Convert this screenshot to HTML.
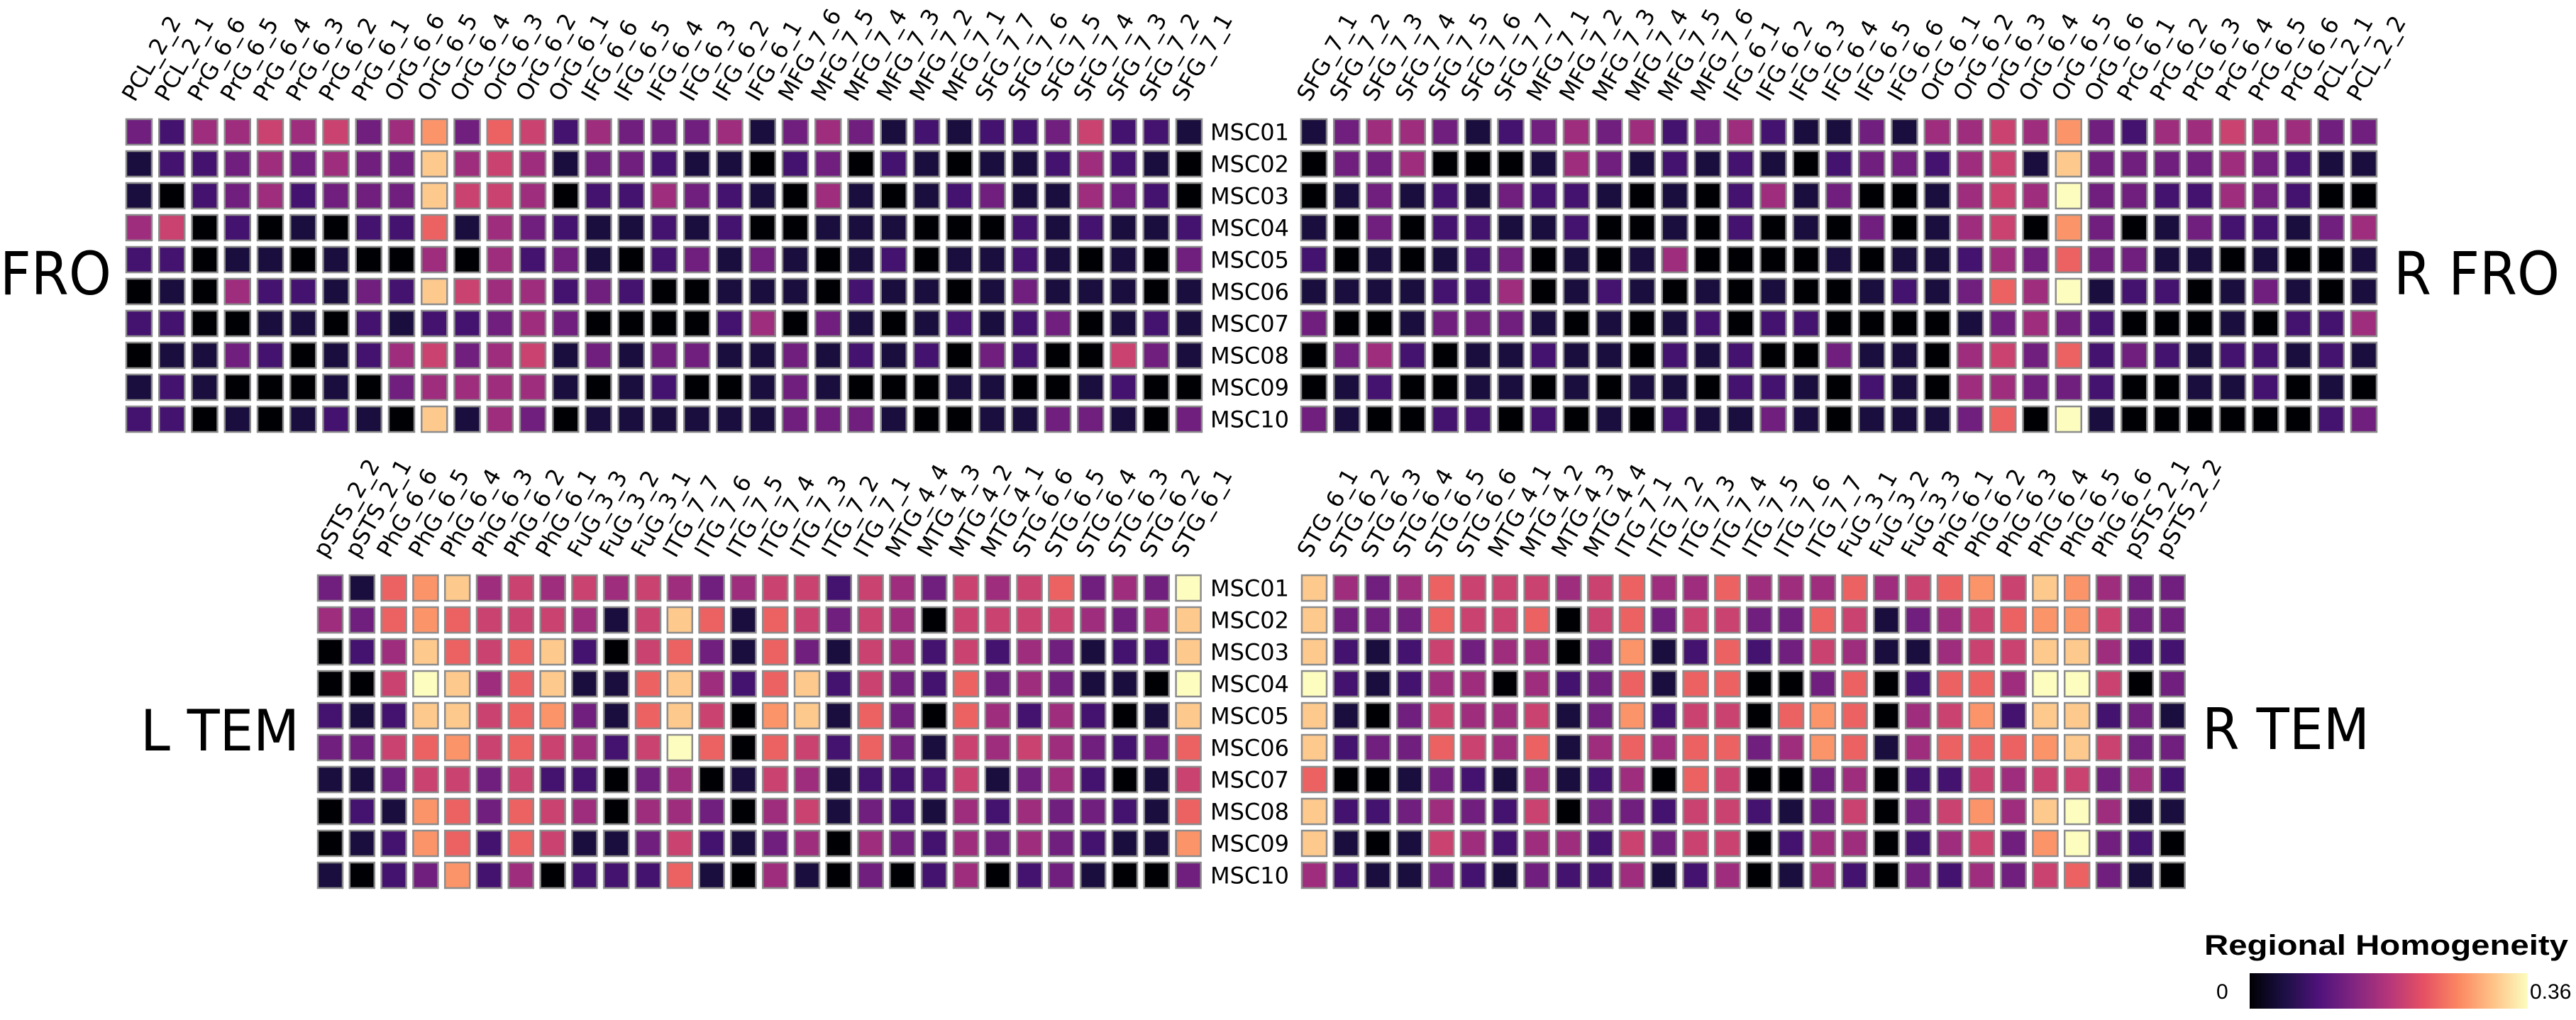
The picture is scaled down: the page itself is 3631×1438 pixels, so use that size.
<!DOCTYPE html>
<html>
<head>
<meta charset="utf-8">
<style>
html,body{margin:0;padding:0;background:#fff;}
svg{display:block;}
text{font-family:"DejaVu Sans","Liberation Sans",sans-serif;fill:#000;}
</style>
</head>
<body>
<svg id="chart" width="3631" height="1438" viewBox="0 0 3631 1438" xmlns="http://www.w3.org/2000/svg">
<defs>
<linearGradient id="magma" x1="0" x2="1" y1="0" y2="0">
<stop offset="0" stop-color="#000004"/>
<stop offset="0.125" stop-color="#1c1044"/>
<stop offset="0.25" stop-color="#4f127b"/>
<stop offset="0.375" stop-color="#812581"/>
<stop offset="0.5" stop-color="#b5367a"/>
<stop offset="0.625" stop-color="#e55064"/>
<stop offset="0.75" stop-color="#fb8761"/>
<stop offset="0.875" stop-color="#fec287"/>
<stop offset="1" stop-color="#fcfdbf"/>
</linearGradient>
</defs>
<g id="panels"></g>
<text x="-67" y="415" font-size="84" textLength="224" lengthAdjust="spacingAndGlyphs">L FRO</text>
<text x="3374" y="415" font-size="84" textLength="234" lengthAdjust="spacingAndGlyphs">R FRO</text>
<text x="198" y="1058" font-size="80" textLength="224" lengthAdjust="spacingAndGlyphs">L TEM</text>
<text x="3104" y="1056" font-size="80" textLength="236" lengthAdjust="spacingAndGlyphs">R TEM</text>
<g>
<text x="3107" y="1346" font-size="40" font-weight="bold" style="font-family:'Liberation Sans',sans-serif" textLength="513" lengthAdjust="spacingAndGlyphs">Regional Homogeneity</text>
<rect x="3171" y="1372" width="392" height="50" fill="url(#magma)"/>
<text x="3124" y="1408" font-size="30" style="font-family:'Liberation Sans',sans-serif">0</text>
<text x="3566" y="1408" font-size="30" style="font-family:'Liberation Sans',sans-serif">0.36</text>
</g>
</svg>
<script>
// values in units of 0.04 (0 .. 9 => 0 .. 0.36 ReHo)
const valueUnit = 0.04;
const valueMax = 0.36;
const rowLabels = ["MSC01","MSC02","MSC03","MSC04","MSC05","MSC06","MSC07","MSC08","MSC09","MSC10"];
const tlCols = ["PCL_2_2","PCL_2_1","PrG_6_6","PrG_6_5","PrG_6_4","PrG_6_3","PrG_6_2","PrG_6_1","OrG_6_6","OrG_6_5","OrG_6_4","OrG_6_3","OrG_6_2","OrG_6_1","IFG_6_6","IFG_6_5","IFG_6_4","IFG_6_3","IFG_6_2","IFG_6_1","MFG_7_6","MFG_7_5","MFG_7_4","MFG_7_3","MFG_7_2","MFG_7_1","SFG_7_7","SFG_7_6","SFG_7_5","SFG_7_4","SFG_7_3","SFG_7_2","SFG_7_1"];
const trCols = tlCols.slice().reverse();
const blCols = ["pSTS_2_2","pSTS_2_1","PhG_6_6","PhG_6_5","PhG_6_4","PhG_6_3","PhG_6_2","PhG_6_1","FuG_3_3","FuG_3_2","FuG_3_1","ITG_7_7","ITG_7_6","ITG_7_5","ITG_7_4","ITG_7_3","ITG_7_2","ITG_7_1","MTG_4_4","MTG_4_3","MTG_4_2","MTG_4_1","STG_6_6","STG_6_5","STG_6_4","STG_6_3","STG_6_2","STG_6_1"];
const brCols = blCols.slice().reverse();
const tlVals = [
[3,2,4,4,5,4,5,3,4,7,3,6,5,2,4,3,3,3,4,1,3,4,3,1,2,1,2,2,3,5,2,2,1],
[1,2,2,3,4,3,4,3,3,8,4,5,4,1,3,3,2,1,1,0,2,3,0,2,1,0,1,1,2,4,2,1,0],
[1,0,2,3,4,2,3,3,3,8,5,5,4,0,2,2,4,3,2,1,0,4,1,0,1,2,3,1,1,4,3,2,0],
[4,5,0,2,0,1,0,2,2,6,1,4,3,2,1,1,2,1,2,0,0,1,1,1,0,0,0,2,1,2,1,1,2],
[2,2,0,1,1,0,1,0,0,4,0,4,2,3,1,0,2,3,1,3,1,0,1,2,0,1,1,2,1,0,1,0,3],
[0,1,0,4,2,2,1,3,2,8,5,4,4,2,3,2,0,0,1,1,1,0,2,1,1,0,1,3,1,1,1,0,1],
[2,2,0,0,1,1,0,2,1,2,2,3,4,3,0,0,0,0,2,4,0,3,1,0,1,2,1,2,3,0,1,2,1],
[0,1,1,3,2,0,1,2,4,5,3,4,5,1,3,1,3,3,1,1,3,1,2,1,2,0,3,2,0,0,5,3,1],
[1,2,1,0,0,0,1,0,3,4,4,4,4,1,0,1,2,0,0,1,3,1,0,0,0,1,1,0,0,1,2,0,0],
[2,2,0,1,0,1,2,1,0,8,1,4,3,0,1,1,1,1,1,1,3,3,3,1,0,0,1,1,3,3,1,0,3]
];
const trVals = [
[1,3,4,4,3,1,2,3,4,3,4,2,3,4,2,1,1,3,1,4,4,5,4,7,3,2,4,4,5,4,4,3,3],
[0,3,3,4,0,0,0,1,4,3,1,2,1,2,1,0,2,3,3,2,4,5,1,8,3,3,3,3,4,3,2,1,1],
[0,1,3,1,2,1,3,2,2,1,0,1,0,2,4,1,3,0,0,1,4,5,4,9,3,3,2,2,4,3,2,0,0],
[1,0,3,0,2,2,1,1,2,0,0,1,0,2,0,1,0,3,0,1,4,5,0,7,3,0,1,3,2,2,1,3,4],
[2,0,1,0,1,2,3,0,1,0,1,4,0,0,0,0,1,0,1,1,2,4,3,6,3,3,1,1,0,1,0,0,1],
[1,1,1,1,2,2,4,0,1,2,1,0,1,0,1,0,0,1,2,1,3,6,4,9,1,2,2,0,1,3,1,0,1],
[3,0,0,1,3,3,3,1,0,1,0,1,2,0,2,2,0,0,0,0,1,3,4,3,2,0,0,0,1,0,2,2,4],
[0,3,4,2,0,1,1,2,1,1,0,2,1,2,0,0,3,1,1,0,4,5,3,6,2,3,2,1,2,2,1,2,1],
[0,1,2,0,0,1,1,0,1,0,1,1,0,2,2,1,0,2,1,0,4,4,3,3,2,0,0,1,1,2,0,1,0],
[3,1,0,0,2,2,0,2,0,1,0,2,1,1,3,1,0,1,1,1,3,6,0,9,1,0,0,0,0,0,0,2,3]
];
const blVals = [
[3,1,6,7,8,4,5,4,5,4,5,4,3,4,5,5,2,5,4,3,5,4,5,6,3,4,3,9],
[4,3,6,7,6,5,5,5,4,1,5,8,6,1,6,5,3,5,4,0,5,5,5,5,4,3,4,8],
[0,2,4,8,6,5,6,8,2,0,5,6,3,1,6,3,1,5,4,2,5,2,4,3,1,2,2,8],
[0,0,5,9,8,4,6,8,1,1,6,8,4,2,6,8,2,5,3,2,6,3,4,3,1,1,0,9],
[2,1,2,8,8,5,6,7,3,1,6,8,5,0,7,8,1,6,3,0,6,4,2,4,2,0,1,8],
[3,3,5,6,7,5,6,5,4,2,5,9,6,0,6,5,2,6,3,1,5,4,5,4,3,2,3,6],
[1,1,3,5,5,3,5,2,2,0,3,4,0,1,5,4,1,2,2,2,5,1,3,4,2,0,1,5],
[0,2,1,7,6,3,6,5,4,0,4,4,3,0,4,5,1,3,2,1,4,2,4,3,3,2,1,6],
[0,1,2,7,6,2,6,5,1,1,3,5,2,1,3,4,0,4,3,2,4,3,4,3,2,1,1,7],
[1,0,2,3,7,2,4,0,2,2,2,6,1,0,4,1,0,3,0,2,4,0,2,3,1,0,0,3]
];
const brVals = [
[8,4,3,4,6,5,5,5,4,5,6,4,4,6,4,4,4,6,4,5,6,7,5,8,7,4,3,3],
[8,3,3,3,6,5,5,6,0,5,6,3,5,5,3,3,6,5,1,3,4,5,6,7,7,5,3,3],
[8,2,1,2,5,3,4,4,0,3,7,1,2,6,2,3,5,4,1,1,4,5,5,8,8,4,2,2],
[9,2,1,2,4,4,0,4,2,3,6,1,6,6,0,0,3,6,0,2,6,6,4,9,9,5,0,3],
[8,1,0,3,5,4,4,5,1,3,7,2,5,5,0,6,7,6,0,4,5,7,2,8,8,2,3,1],
[8,2,3,3,6,5,4,6,1,4,6,4,6,6,3,4,7,6,1,4,6,6,6,7,8,5,3,3],
[6,0,0,1,3,2,1,4,1,2,4,0,6,5,0,0,3,4,0,2,2,5,4,5,5,3,4,2],
[8,2,2,3,4,3,2,5,0,3,3,2,5,5,2,1,3,5,0,3,5,7,4,8,9,4,1,1],
[8,1,0,1,5,4,2,4,4,2,5,3,5,5,0,2,4,4,0,2,4,5,3,7,9,3,2,0],
[4,2,1,1,3,2,1,3,2,2,4,1,2,4,0,1,4,2,0,3,2,4,3,5,6,3,1,0]
];

const NS = "http://www.w3.org/2000/svg";
const magmaStops = ["#000004","#1c1044","#4f127b","#812581","#b5367a","#e55064","#fb8761","#fec287","#fcfdbf"];
function hex(c){return [parseInt(c.substr(1,2),16),parseInt(c.substr(3,2),16),parseInt(c.substr(5,2),16)];}
function colorScale(v){
  let t = Math.max(0, Math.min(1, v / valueMax));
  const n = magmaStops.length - 1;
  const i = Math.min(n - 1, Math.floor(t * n));
  const f = t * n - i;
  const a = hex(magmaStops[i]), b = hex(magmaStops[i+1]);
  const r = a.map((x,k)=>Math.round(x + (b[k]-x)*f));
  return "rgb(" + r.join(",") + ")";
}
const root = document.getElementById("panels");

function drawPanel(name, cols, vals, x0, y0, colPitch, rowPitch, cw, ch) {
  const g = document.createElementNS(NS, "g");
  
  
  root.appendChild(g);
  const xScale = j => x0 + j * colPitch;
  const yScale = i => y0 + i * rowPitch;
  cols.forEach((lab, j) => {
    const t = document.createElementNS(NS, "text");
    
    
    const ax = xScale(j) + cw / 2 - 6, ay = y0 - 22;
    t.setAttribute("x", ax);
    t.setAttribute("y", ay);
    t.setAttribute("font-size", "32");
    t.setAttribute("transform", "rotate(-60 " + ax + " " + ay + ")");
    t.textContent = lab;
    g.appendChild(t);
  });
  vals.forEach((row, i) => {
    row.forEach((lv, j) => {
      if (j >= cols.length) return;
      const v = lv * valueUnit;
      const r = document.createElementNS(NS, "rect");
      
      
      r.setAttribute("x", xScale(j) + 1);
      r.setAttribute("y", yScale(i) + 1);
      r.setAttribute("width", cw - 2);
      r.setAttribute("height", ch - 2);
      r.setAttribute("fill", colorScale(v));
      r.setAttribute("stroke", "#8c8c8c");
      r.setAttribute("stroke-width", "2.5");
      g.appendChild(r);
    });
  });
}
function drawRowLabels(name, y0, rowPitch, ch) {
  rowLabels.forEach((lab, i) => {
    const t = document.createElementNS(NS, "text");
    
    
    t.setAttribute("x", 1706);
    t.setAttribute("y", y0 + i * rowPitch + ch / 2 + 11.5);
    t.setAttribute("font-size", "32");
    t.textContent = lab;
    root.appendChild(t);
  });
}
drawPanel("top-left-frontal-panel", tlCols, tlVals, 177, 167, 46.25, 45, 38, 38);
drawPanel("top-right-frontal-panel", trCols, trVals, 1833, 167, 46.25, 45, 38, 38);
drawPanel("bottom-left-temporal-panel", blCols, blVals, 447, 810, 44.8, 45, 37, 38);
drawPanel("bottom-right-temporal-panel", brCols, brVals, 1834, 810, 44.8, 45, 37, 38);
drawRowLabels("top-row-label", 167, 45, 38);
drawRowLabels("bottom-row-label", 810, 45, 38);
</script>
</body>
</html>
